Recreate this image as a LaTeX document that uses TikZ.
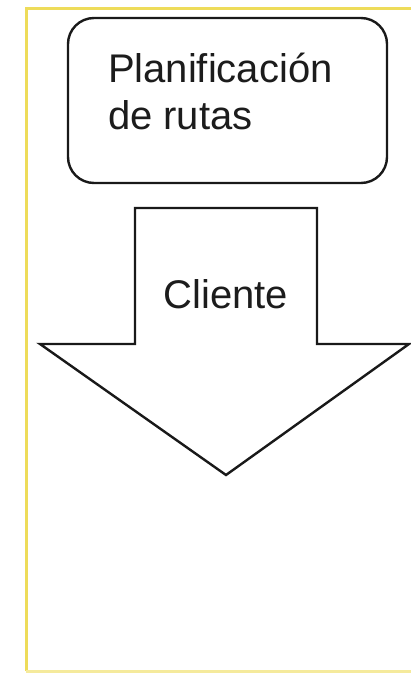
\documentclass[tikz,border=0pt]{standalone}
\usepackage{fontspec}
\setmainfont{Liberation Sans}
\definecolor{framey}{HTML}{EEDC5A}
\definecolor{txt}{HTML}{1C1C1C}
\tikzset{
  shapeline/.style={draw=black!90, line width=2.4pt, line join=miter},
  lbl/.style={text=txt, font=\fontsize{40pt}{47pt}\selectfont, inner sep=0pt, outer sep=0pt},
}
\begin{document}
\begin{tikzpicture}[x=1pt,y=-1pt]
\useasboundingbox (0,0) rectangle (411,676);
\fill[white] (0,0) rectangle (411,676);
% frame
\draw[framey, line width=3pt] (26,671) -- (26,9) -- (411,9);
\draw[framey!60, line width=3pt] (26,671) -- (411,671);
% rounded box
\node[shapeline, rounded corners=26pt, minimum width=319pt, minimum height=165pt, inner sep=0pt] (plan) at (227.5,100.5) {};
\node[lbl, anchor=base west, align=left] (plantext) at (108,130) {Planificación\\de rutas};
% arrow
\coordinate (a1) at (135,208);
\coordinate (a2) at (317,208);
\coordinate (a3) at (317,344);
\coordinate (a4) at (409,344);
\coordinate (tip) at (226,475);
\coordinate (a6) at (40,344);
\coordinate (a7) at (135,344);
\draw[shapeline, fill=white] (a1) -- (a2) -- (a3) -- (a4) -- (tip) -- (a6) -- (a7) -- cycle;
\node[lbl, anchor=base] (cliente) at (226,308) {Cliente};
\end{tikzpicture}
\end{document}
